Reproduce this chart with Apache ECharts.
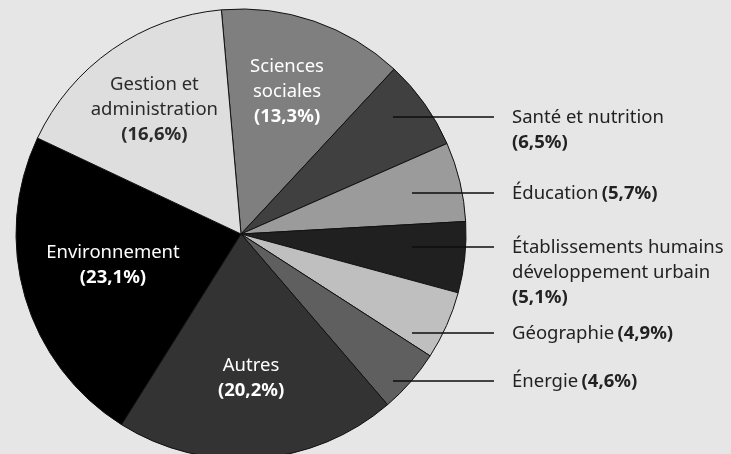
<!DOCTYPE html>
<html>
<head>
<meta charset="utf-8">
<script src="https://cdn.jsdelivr.net/npm/echarts@6/dist/echarts.min.js"></script>
<style>
  html, body { margin: 0; padding: 0; background: #e6e6e6; }
  #chart { width: 731px; height: 454px; }
</style>
</head>
<body>
<div id="chart"></div>
<script>
// slices, clockwise from the top
const categories = [
  'Sciences\nsociales',
  'Santé et nutrition',
  'Éducation',
  'Établissements humains\ndéveloppement urbain',
  'Géographie',
  'Énergie',
  'Autres',
  'Environnement',
  'Gestion et\nadministration'
]
const values = [13.3, 6.5, 5.7, 5.1, 4.9, 4.6, 20.2, 23.1, 16.6]
const sliceColors = ['#7f7f7f', '#404040', '#9b9b9b', '#202020', '#bfbfbf', '#5f5f5f', '#333333', '#000000', '#dedede']
const labelColors = ['#fff', '#222', '#222', '#222', '#222', '#222', '#fff', '#fff', '#2a2a2a']
const labelInside = [true, false, false, false, false, false, true, true, true]
const percentInline = [false, false, true, false, true, true, false, false, false]

// nudges for the inside labels
const insideDx = [-2, 0, 0, 0, 0, 0, -1, 14, -2]
const insideDy = [-2, 0, 0, 0, 0, 0, -3, -10, -3]

// callout placement for the small slices (line y, line start x)
const calloutY = [null, 117, 193, 247, 333, 381, null, null, null]
const calloutStartX = [null, 393, 412, 412, 412, 393, null, null, null]
const calloutEndX = 494
const calloutTextX = 512

const FONT = '"Noto Sans", "Open Sans", sans-serif'

function pct(v) {
  return '(' + v.toFixed(1).replace('.', ',') + '%)'
}

function labelText(i) {
  const lines = categories[i].split('\n').map((l) => '{n|' + l + '}')
  if (percentInline[i]) {
    lines[lines.length - 1] += ' {b|' + pct(values[i]) + '}'
  } else {
    lines.push('{b|' + pct(values[i]) + '}')
  }
  return lines.join('\n')
}

const rich = {
  n: { fontFamily: FONT, fontSize: 18.5, lineHeight: 25 },
  b: { fontFamily: FONT, fontSize: 18.5, lineHeight: 25, fontWeight: 'bold' }
}

const chart = echarts.init(document.getElementById('chart'))

chart.setOption({
  backgroundColor: '#e6e6e6',
  animation: false,
  series: [
    {
      type: 'pie',
      z: 2,
      center: [241, 234],
      radius: 225,
      startAngle: 95,
      clockwise: true,
      silent: true,
      itemStyle: { borderColor: '#111', borderWidth: 1 },
      label: { show: false },
      labelLine: { show: false },
      data: values.map((v, i) => ({
        value: v,
        name: categories[i],
        itemStyle: { color: sliceColors[i] }
      }))
    },
    {
      // transparent copy on top that carries all labels and callout lines
      type: 'pie',
      z: 5,
      center: [241, 234],
      radius: [65, 225],
      startAngle: 95,
      clockwise: true,
      silent: true,
      avoidLabelOverlap: false,
      itemStyle: { color: 'transparent', borderWidth: 0 },
      label: {
        formatter: (p) => labelText(p.dataIndex),
        rich
      },
      labelLine: { length: 10, length2: 10, lineStyle: { color: '#0d0d0d', width: 1.3 } },
      labelLayout: (params) => {
        const i = params.dataIndex
        if (labelInside[i]) return { dx: insideDx[i], dy: insideDy[i] }
        const y = calloutY[i]
        return {
          x: calloutTextX,
          y: y - 12,
          align: 'left',
          verticalAlign: 'top',
          labelLinePoints: [[calloutStartX[i], y], [calloutStartX[i] + 1, y], [calloutEndX, y]]
        }
      },
      data: values.map((v, i) => ({
        value: v,
        name: categories[i],
        label: { position: labelInside[i] ? 'inside' : 'outside', color: labelColors[i] },
        labelLine: { show: !labelInside[i] }
      }))
    }
  ]
})
</script>
</body>
</html>
